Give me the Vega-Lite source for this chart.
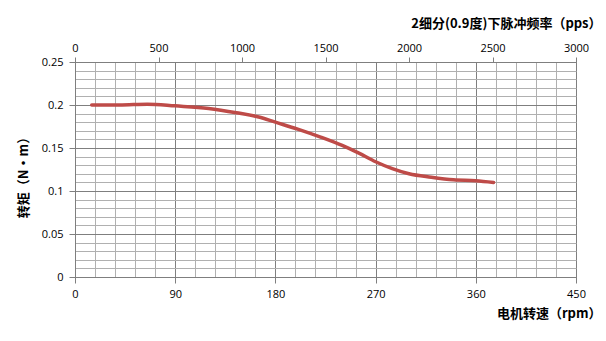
{
  "$schema": "https://vega.github.io/schema/vega-lite/v6.json",
  "width": 501,
  "height": 215,
  "autosize": {"type": "none"},
  "padding": {"left": 75, "top": 62, "right": 30, "bottom": 64},
  "background": "white",
  "config": {
    "view": {"stroke": "#7f7f7f", "strokeWidth": 1},
    "axis": {"labelFont": "Open Sans", "labelFontSize": 11, "labelColor": "#000000", "titleFont": "Noto Sans CJK SC", "titleFontSize": 13, "titleFontWeight": "bold", "titleColor": "#000000", "domainColor": "#7f7f7f", "tickColor": "#7f7f7f"}
  },
  "data": {"values": [
    {"rpm": 15, "pps": 100, "torque": 0.200},
    {"rpm": 40, "pps": 266.7, "torque": 0.200},
    {"rpm": 65, "pps": 433.3, "torque": 0.201},
    {"rpm": 90, "pps": 600, "torque": 0.199},
    {"rpm": 120, "pps": 800, "torque": 0.196},
    {"rpm": 145, "pps": 966.7, "torque": 0.191},
    {"rpm": 165, "pps": 1100, "torque": 0.186},
    {"rpm": 180, "pps": 1200, "torque": 0.180},
    {"rpm": 200, "pps": 1333.3, "torque": 0.172},
    {"rpm": 220, "pps": 1466.7, "torque": 0.163},
    {"rpm": 240, "pps": 1600, "torque": 0.153},
    {"rpm": 255, "pps": 1700, "torque": 0.144},
    {"rpm": 270, "pps": 1800, "torque": 0.134},
    {"rpm": 285, "pps": 1900, "torque": 0.126},
    {"rpm": 300, "pps": 2000, "torque": 0.120},
    {"rpm": 320, "pps": 2133.3, "torque": 0.116},
    {"rpm": 340, "pps": 2266.7, "torque": 0.113},
    {"rpm": 360, "pps": 2400, "torque": 0.112},
    {"rpm": 376, "pps": 2506.7, "torque": 0.110}
  ]},
  "layer": [
    {
      "mark": {"type": "line", "color": "#BE4B48", "strokeWidth": 3.5, "interpolate": "monotone", "strokeCap": "round"},
      "encoding": {
        "x": {
          "field": "rpm", "type": "quantitative",
          "scale": {"domain": [0, 450], "nice": false, "zero": true},
          "axis": {
            "orient": "bottom",
            "values": [0,18,36,54,72,90,108,126,144,162,180,198,216,234,252,270,288,306,324,342,360,378,396,414,432,450],
            "labelExpr": "datum.value % 90 == 0 ? datum.label : ''",
            "grid": true,
            "gridColor": {"condition": {"test": "datum.value % 90 == 0", "value": "#7f7f7f"}, "value": "#b0b0b0"},
            "gridWidth": 1,
            "tickSize": 6,
            "tickOpacity": {"condition": {"test": "datum.value % 90 == 0", "value": 1}, "value": 0},
            "labelPadding": 5,
            "labelFlush": false,
            "title": "电机转速（rpm）",
            "titleAnchor": "end",
            "titleAlign": "right",
            "titleBaseline": "middle",
            "titleX": 526,
            "titleY": 36
          }
        },
        "y": {
          "field": "torque", "type": "quantitative",
          "scale": {"domain": [0, 0.25], "nice": false},
          "axis": {
            "values": [0,0.01,0.02,0.03,0.04,0.05,0.06,0.07,0.08,0.09,0.1,0.11,0.12,0.13,0.14,0.15,0.16,0.17,0.18,0.19,0.2,0.21,0.22,0.23,0.24,0.25],
            "labelExpr": "round(datum.value*100) % 5 == 0 ? toString(round(datum.value*100)/100) : ''",
            "grid": true,
            "gridColor": {"condition": {"test": "round(datum.value*100) % 5 == 0", "value": "#7f7f7f"}, "value": "#b0b0b0"},
            "tickSize": 6,
            "tickOpacity": {"condition": {"test": "round(datum.value*100) % 5 == 0", "value": 1}, "value": 0},
            "labelPadding": 6,
            "labelFlush": false,
            "title": "转矩（N·m）",
            "titleX": -52,
            "titleY": 112,
            "titleBaseline": "middle"
          }
        }
      }
    },
    {
      "mark": {"type": "rule", "opacity": 0},
      "encoding": {
        "x": {
          "field": "pps", "type": "quantitative",
          "scale": {"domain": [0, 3000], "nice": false},
          "axis": {
            "orient": "top",
            "values": [0,500,1000,1500,2000,2500,3000],
            "format": "d",
            "grid": false,
            "tickSize": 5,
            "labelPadding": 4,
            "labelFlush": false,
            "title": "2细分(0.9度)下脉冲频率（pps）",
            "titleAnchor": "end",
            "titleAlign": "right",
            "titleBaseline": "middle",
            "titleX": 526,
            "titleY": -39
          }
        }
      }
    }
  ],
  "resolve": {"scale": {"x": "independent"}}
}
